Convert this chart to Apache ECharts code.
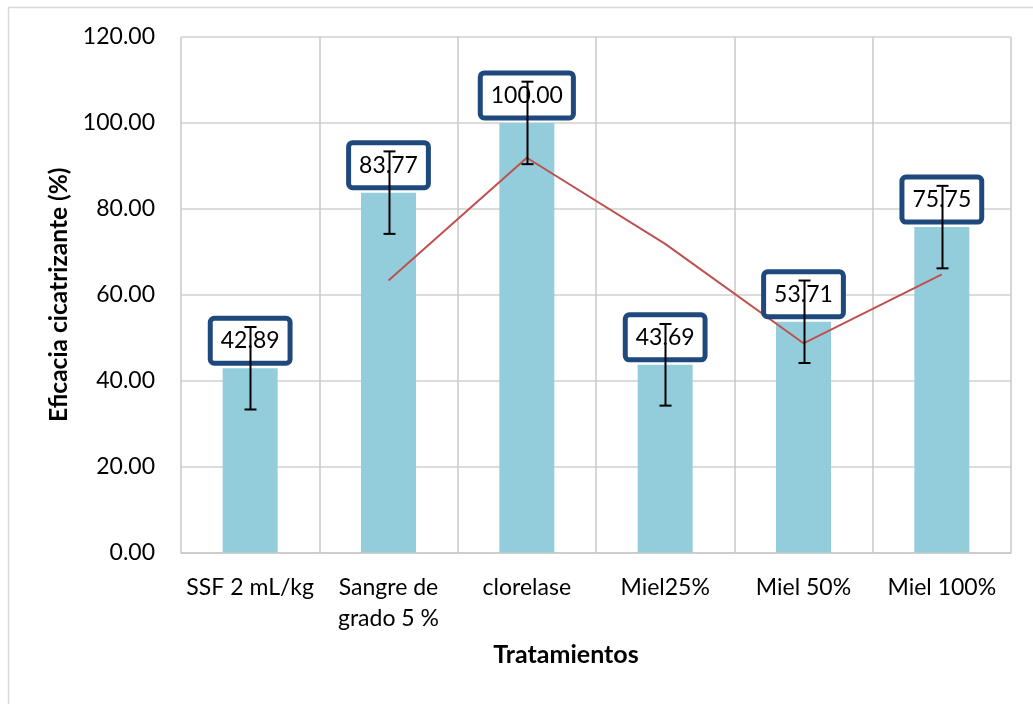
<!DOCTYPE html>
<html><head><meta charset="utf-8">
<script src="https://cdn.jsdelivr.net/npm/echarts@6/dist/echarts.min.js"></script>
<style>html,body{margin:0;padding:0;background:#fff}#c{width:1033px;height:704px}</style>
</head><body><div id="c"></div>
<script>
const categories = ['SSF 2 mL/kg', 'Sangre de\ngrado 5 %', 'clorelase', 'Miel25%', 'Miel 50%', 'Miel 100%'];
const eficacia = [42.89, 83.77, 100.00, 43.69, 53.71, 75.75];
const errores = [9.6, 9.6, 9.6, 9.5, 9.6, 9.6];
const mediaMovil = [null, 63.33, 91.89, 71.85, 48.70, 64.73];
const yMin = 0, yMax = 120, yStep = 20;

const FONT = 'Lato';
const chart = echarts.init(document.getElementById('c'), null, {renderer: 'canvas'});
chart.setOption({
  animation: false,
  backgroundColor: '#fff',
  textStyle: {fontFamily: FONT},
  graphic: [{
    type: 'rect', silent: true, z: -10,
    shape: {x: 8.5, y: 7.5, width: 1100, height: 800},
    style: {fill: null, stroke: '#D9D9D9', lineWidth: 1.5}
  }],
  grid: {left: 181, right: 22, top: 37, bottom: 151.5, containLabel: false},
  xAxis: {
    type: 'category', data: categories, boundaryGap: true,
    axisLine: {show: true, lineStyle: {color: '#C8C8C8', width: 1.5}},
    axisTick: {show: false},
    splitLine: {show: true, lineStyle: {color: '#C8C8C8', width: 1.5}},
    axisLabel: {fontFamily: FONT, fontSize: 23, color: '#000', margin: 20, lineHeight: 31, interval: 0},
    name: 'Tratamientos', nameLocation: 'middle', nameGap: 90,
    nameTextStyle: {fontFamily: FONT, fontSize: 25, fontWeight: 'bold', color: '#000', padding: [0, 60, 0, 0]}
  },
  yAxis: {
    type: 'value', min: yMin, max: yMax, interval: yStep,
    axisLine: {show: false}, axisTick: {show: false},
    splitLine: {show: true, lineStyle: {color: '#D0D0D0', width: 1.5}},
    axisLabel: {fontFamily: FONT, fontSize: 23, color: '#000', margin: 26, formatter: v => v.toFixed(2)},
    name: 'Eficacia cicatrizante (%)', nameLocation: 'middle', nameGap: 109,
    nameTextStyle: {fontFamily: FONT, fontSize: 24.5, fontWeight: 'bold', color: '#000'}
  },
  series: [
    {
      type: 'bar', data: eficacia, barWidth: 55, z: 2,
      itemStyle: {color: '#93CDDC'}
    },
    {
      type: 'line', data: mediaMovil, z: 3, symbol: 'none', connectNulls: false,
      lineStyle: {color: '#C0504D', width: 2}
    },
    {
      type: 'custom', z: 4,
      data: eficacia.map((v, i) => [i, v]),
      encode: {x: 0, y: 1},
      renderItem: function (params, api) {
        const p = api.coord([api.value(0), api.value(1)]);
        return {
          type: 'text', z2: 10,
          x: p[0], y: p[1] - 7.5,
          style: {
            text: api.value(1).toFixed(2),
            fontFamily: FONT, fontSize: 23, fill: '#000',
            align: 'center', verticalAlign: 'bottom',
            lineHeight: 32,
            backgroundColor: '#fff', borderColor: '#1F497D', borderWidth: 5, borderRadius: 1.5,
            padding: [4, 8]
          }
        };
      }
    },
    {
      type: 'custom', z: 5,
      data: eficacia.map((v, i) => [i, v - errores[i], v + errores[i]]),
      encode: {x: 0, y: [1, 2]},
      renderItem: function (params, api) {
        const lo = api.coord([api.value(0), api.value(1)]);
        const hi = api.coord([api.value(0), api.value(2)]);
        const x = Math.round(lo[0]) + 0.5, w = 6;
        const st = {stroke: '#000', lineWidth: 2};
        return {
          type: 'group', children: [
            {type: 'line', shape: {x1: x, y1: lo[1], x2: x, y2: hi[1]}, style: st},
            {type: 'line', shape: {x1: x - w, y1: lo[1], x2: x + w, y2: lo[1]}, style: st},
            {type: 'line', shape: {x1: x - w, y1: hi[1], x2: x + w, y2: hi[1]}, style: st}
          ]
        };
      }
    }
  ]
});
</script></body></html>
